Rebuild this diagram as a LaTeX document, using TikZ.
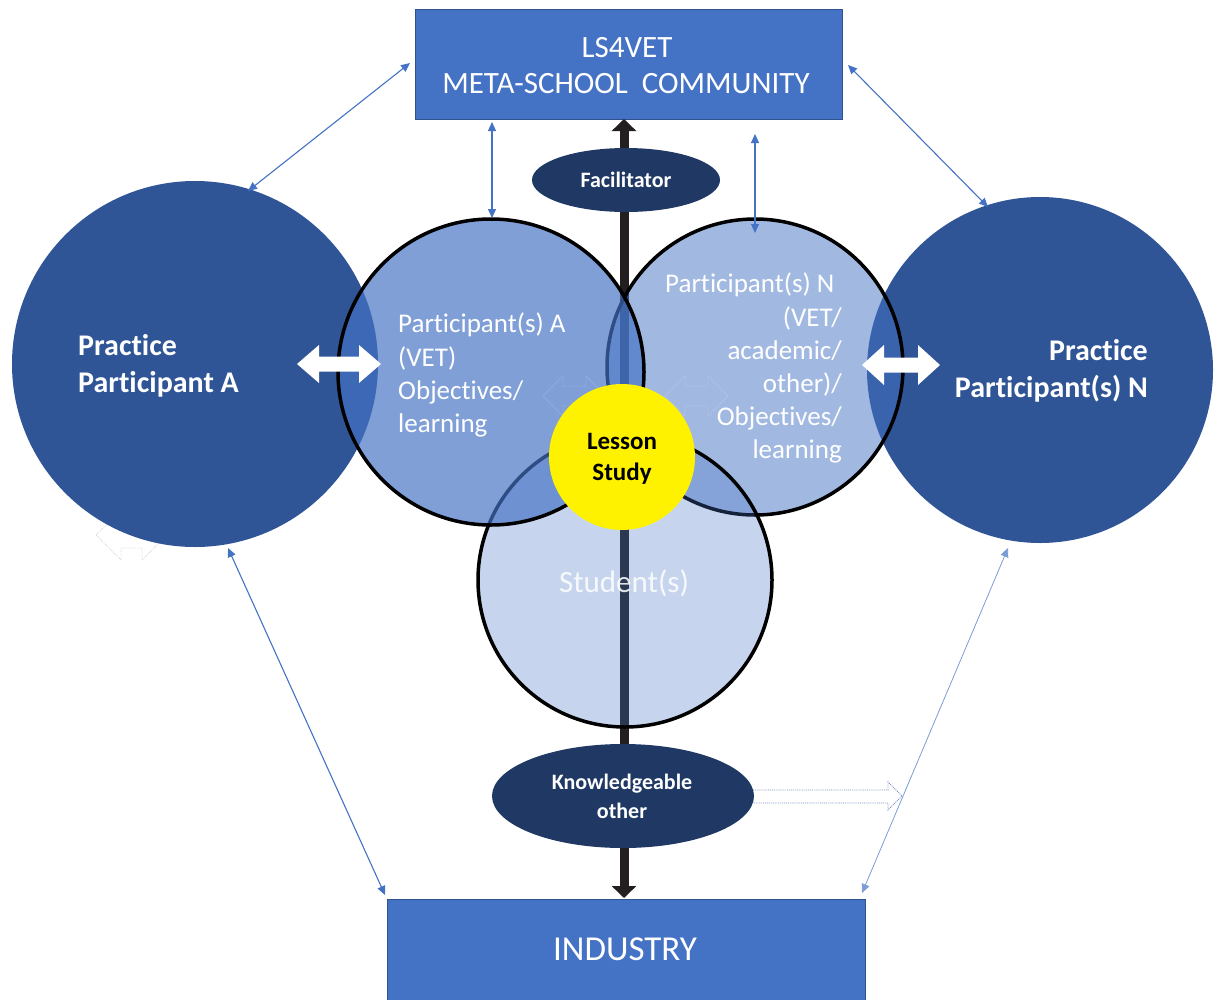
\documentclass[tikz,border=0pt]{standalone}
\usepackage{fontspec}
\setmainfont{Carlito}[Ligatures=NoCommon]
\usetikzlibrary{arrows.meta,shapes.geometric}
\definecolor{boxblue}{HTML}{4472C4}
\definecolor{boxedge}{HTML}{2F528F}
\definecolor{bigblue}{HTML}{2F5597}
\definecolor{navy}{HTML}{203864}
\definecolor{axiscol}{HTML}{231F20}
\definecolor{ghostgray}{HTML}{D6D6D6}
\definecolor{dotblue}{HTML}{6F8CC0}
\newcommand{\hdarrow}[6]{(#1,#3) -- ({#1+#6},{#3-#4}) -- ({#1+#6},{#3-#5}) -- ({#2-#6},{#3-#5}) -- ({#2-#6},{#3-#4}) -- (#2,#3) -- ({#2-#6},{#3+#4}) -- ({#2-#6},{#3+#5}) -- ({#1+#6},{#3+#5}) -- ({#1+#6},{#3+#4}) -- cycle}
\begin{document}
\begin{tikzpicture}[x=1pt,y=-1pt,
  bigc/.style={circle, inner sep=0, fill=bigblue},
  midc/.style={circle, inner sep=0, fill=boxblue, draw=black, line width=3.5pt},
  boxn/.style={rectangle, inner sep=0, fill=boxblue, draw=boxedge, line width=1pt},
  ell/.style={ellipse, inner sep=0, fill=navy},
  lbl/.style={inner sep=0, text=white},
  conn/.style={draw=boxblue, line width=1.1pt, {Triangle[width=8pt,length=9pt]}-{Triangle[width=8pt,length=9pt]}},
  axisline/.style={draw=axiscol, line width=9pt, {Triangle[width=24pt,length=12pt]}-{Triangle[width=24pt,length=12pt]}}
]
\useasboundingbox (0,0) rectangle (1215,999);
\clip (0,0) rectangle (1215,999);

% faint ghost arrow under left circle
\draw[ghostgray, line width=0.8pt, densely dotted] \hdarrow{96}{167}{535}{25}{13}{25};

% big practice circles
\node[bigc, minimum size=366pt] (PA) at (195,364) {};
\node[bigc, minimum size=346pt] (PN) at (1040,370) {};

% boxes
\node[boxn, minimum width=427pt, minimum height=110pt] (meta) at (628.5,64) {};
\node[boxn, minimum width=478pt, minimum height=112pt] (ind) at (626,955) {};

% central axis
\coordinate (axtop) at (624,119);
\coordinate (axbot) at (624,898);
\draw[axisline] (axtop) -- (axbot);

% middle circles
\node[midc, fill opacity=0.5, minimum size=296pt] (pN) at (755,367) {};
\node[midc, fill opacity=0.3, minimum size=294pt] (st) at (625,580) {};
\node[midc, fill opacity=0.68, minimum size=306pt] (pA) at (491,372) {};

% faint ghost arrows near centre
\draw[white, draw opacity=0.13, line width=0.8pt] \hdarrow{543}{606}{396}{20}{10}{20};
\draw[white, draw opacity=0.13, line width=0.8pt] \hdarrow{665}{728}{396}{20}{10}{20};

% lesson study
\node[circle, inner sep=0, fill=yellow, minimum size=146pt] (ls) at (622,457) {};

% ellipses
\node[ell, minimum width=188pt, minimum height=64pt] (fac) at (626,180) {};
\node[ell, minimum width=262pt, minimum height=104pt] (ko) at (623,796) {};

% white double arrows
\fill[white] \hdarrow{297}{381}{364}{19}{7.5}{22};
\fill[white] \hdarrow{862}{940}{365}{20}{7.5}{22};

% dotted hollow arrow from knowledgeable other
\draw[dotblue, line width=0.9pt, densely dotted] (753,790) -- (888,790) -- (888,782) -- (902,796) -- (888,810) -- (888,803) -- (753,803);

% thin connectors
\coordinate (a1) at (410,63);   \coordinate (a2) at (248,191);
\coordinate (b1) at (492,122);  \coordinate (b2) at (492,218);
\coordinate (c1) at (755,134);  \coordinate (c2) at (755,233);
\coordinate (d1) at (848,65);   \coordinate (d2) at (988,207);
\coordinate (e1) at (228,548);  \coordinate (e2) at (385,895);
\coordinate (f1) at (1008,548); \coordinate (f2) at (862,893);
\draw[conn] (a1) -- (a2);
\draw[conn] (b1) -- (b2);
\draw[conn] (c1) -- (c2);
\draw[conn] (d1) -- (d2);
\draw[conn] (e1) -- (e2);
\draw[conn, line width=0.8pt, draw=boxblue!70] (f1) -- (f2);

% texts
\node[lbl, anchor=base, font=\fontsize{31}{31}\selectfont] (t1) at (627,57) {LS4VET};
\node[lbl, anchor=base, font=\fontsize{31}{31}\selectfont] (t2) at (626,93) {META-SCHOOL\ \ COMMUNITY};
\node[lbl, anchor=base, font=\fontsize{35}{35}\selectfont] (t3) at (625,960) {INDUSTRY};

\node[lbl, anchor=base west, font=\fontsize{30}{30}\selectfont\bfseries] (t4) at (78,355) {Practice};
\node[lbl, anchor=base west, font=\fontsize{30}{30}\selectfont\bfseries] (t5) at (78,392) {Participant A};
\node[lbl, anchor=base east, font=\fontsize{30}{30}\selectfont\bfseries] (t6) at (1148,360) {Practice};
\node[lbl, anchor=base east, font=\fontsize{30}{30}\selectfont\bfseries] (t7) at (1148,397) {Participant(s) N};

\node[lbl, anchor=base west, font=\fontsize{27}{27}\selectfont] (t8) at (398,332) {Participant(s) A};
\node[lbl, anchor=base west, font=\fontsize{27}{27}\selectfont] (t9) at (398,366) {(VET)};
\node[lbl, anchor=base west, font=\fontsize{27}{27}\selectfont] (t10) at (398,399) {Objectives/};
\node[lbl, anchor=base west, font=\fontsize{27}{27}\selectfont] (t11) at (398,432) {learning};

\node[lbl, anchor=base west, font=\fontsize{27}{27}\selectfont] (t12) at (665,292) {Participant(s) N};
\node[lbl, anchor=base east, font=\fontsize{27}{27}\selectfont] (t13) at (842,326) {(VET/};
\node[lbl, anchor=base east, font=\fontsize{27}{27}\selectfont] (t14) at (842,359) {academic/};
\node[lbl, anchor=base east, font=\fontsize{27}{27}\selectfont] (t15) at (842,392) {other)/};
\node[lbl, anchor=base east, font=\fontsize{27}{27}\selectfont] (t16) at (842,425) {Objectives/};
\node[lbl, anchor=base east, font=\fontsize{27}{27}\selectfont] (t17) at (842,458) {learning};

\node[lbl, anchor=base, text opacity=0.85, font=\fontsize{31}{31}\selectfont] (t18) at (624,592) {Student(s)};

\node[inner sep=0, anchor=base, text=black, font=\fontsize{25}{25}\selectfont\bfseries] (t19) at (622,449) {Lesson};
\node[inner sep=0, anchor=base, text=black, font=\fontsize{25}{25}\selectfont\bfseries] (t20) at (622,480) {Study};

\node[lbl, anchor=base, font=\fontsize{22}{22}\selectfont\bfseries] (t21) at (626,187) {Facilitator};
\node[lbl, anchor=base, font=\fontsize{22}{22}\selectfont\bfseries] (t22) at (622,789) {Knowledgeable};
\node[lbl, anchor=base, font=\fontsize{22}{22}\selectfont\bfseries] (t23) at (622,818) {other};
\end{tikzpicture}
\end{document}
